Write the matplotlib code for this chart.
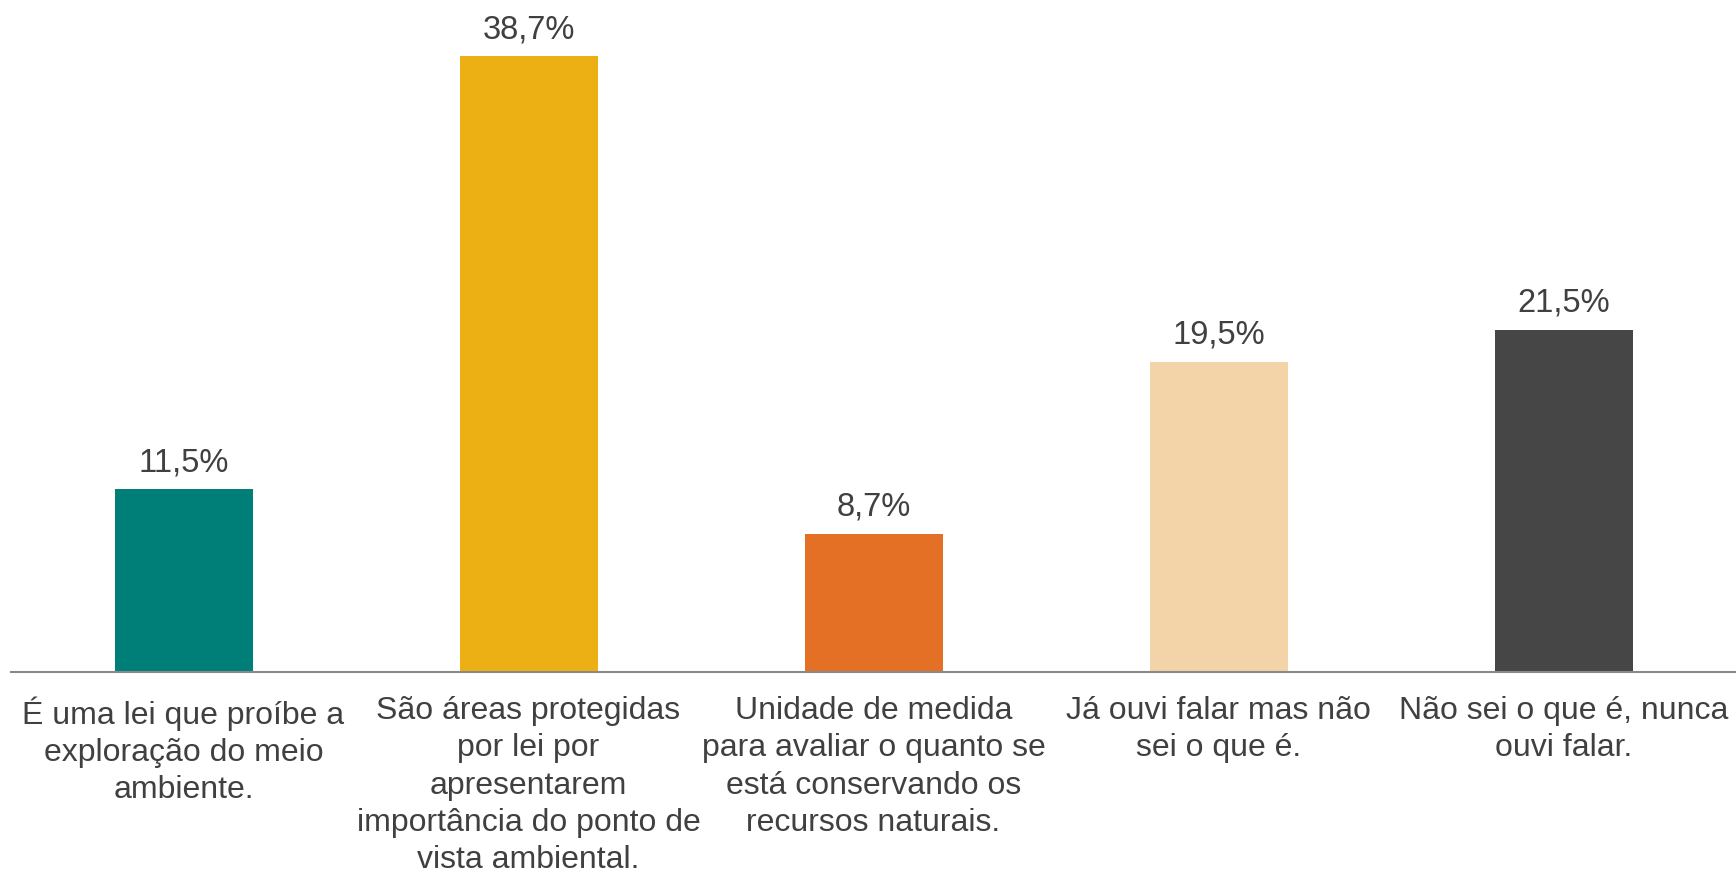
import matplotlib.pyplot as plt

plt.rcParams['font.family'] = ['Liberation Sans', 'DejaVu Sans']

# answer categories (wrapped as in the original)
categories = [
    'É uma lei que proíbe a\nexploração do meio\nambiente.',
    'São áreas protegidas\npor lei por\napresentarem\nimportância do ponto de\nvista ambiental.',
    'Unidade de medida\npara avaliar o quanto se\nestá conservando os\nrecursos naturais.',
    'Já ouvi falar mas não\nsei o que é.',
    'Não sei o que é, nunca\nouvi falar.',
]
values = [11.5, 38.7, 8.7, 19.5, 21.5]
colors = ['#007E78', '#EDB014', '#E37024', '#F3D4A8', '#464646']

text_color = '#404040'

fig = plt.figure(figsize=(17.36, 8.72), dpi=100)
ax = fig.add_axes([11 / 1736, 1 - 672 / 872, 1725 / 1736, 672 / 872])

x = list(range(len(values)))
bars = ax.bar(x, values, width=0.4, color=colors)

for xi, v in zip(x, values):
    ax.annotate(f'{v:.1f}%'.replace('.', ','), (xi, v), xytext=(0, 13),
                textcoords='offset points', ha='center', va='baseline',
                fontsize=23.5, color=text_color)

ax.set_xlim(-0.5, 4.5)
ax.set_ylim(0, 42.25)
ax.set_xticks(x)
ax.set_xticklabels(categories, fontsize=23, color=text_color, linespacing=1.31)
ax.tick_params(axis='x', length=0, pad=17.5)
ax.set_yticks([])

for side in ['top', 'left', 'right']:
    ax.spines[side].set_visible(False)
ax.spines['bottom'].set_color('#898989')
ax.spines['bottom'].set_linewidth(1.5)

fig.savefig('out.png', dpi=100)
